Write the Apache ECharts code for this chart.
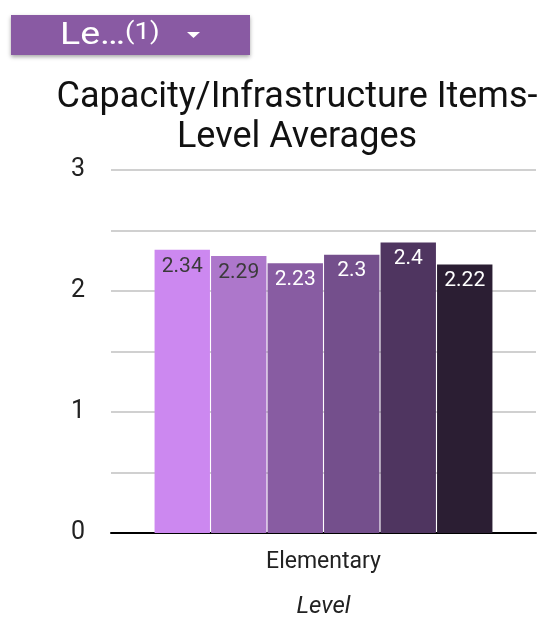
<!DOCTYPE html>
<html>
<head>
<meta charset="utf-8">
<script src="https://cdn.jsdelivr.net/npm/echarts@6/dist/echarts.min.js"></script>
<style>
html,body{margin:0;padding:0;background:#fff;}
#chart{width:549px;height:625px;}
</style>
</head>
<body>
<div id="chart"></div>
<script>
const titleText = 'Capacity/Infrastructure Items-\nLevel Averages';
const categories = ['Elementary'];
const seriesNames = ['S1', 'S2', 'S3', 'S4', 'S5', 'S6'];
const seriesValues = [2.34, 2.29, 2.23, 2.3, 2.4, 2.22];
const barColors = ['#CC88F0', '#AD77CB', '#885CA2', '#744F8C', '#4F3560', '#2B1E33'];
const labelColors = ['#3a3a3a', '#3a3a3a', '#ffffff', '#ffffff', '#ffffff', '#ffffff'];
const yTicks = [0, 1, 2, 3];

const chart = echarts.init(document.getElementById('chart'));
const series = seriesNames.map((n, i) => ({
  name: n,
  type: 'bar',
  data: [seriesValues[i]],
  barGap: '2%',
  barCategoryGap: '20.5%',
  itemStyle: { color: barColors[i] },
  label: {
    show: true,
    position: 'insideTop',
    distance: 6,
    color: labelColors[i],
    fontFamily: 'Roboto',
    fontSize: 21,
    formatter: p => String(p.value)
  }
}));

chart.setOption({
  animation: false,
  backgroundColor: '#ffffff',
  title: {
    text: titleText,
    left: 292,
    textAlign: 'center',
    top: 73,
    textStyle: { fontFamily: 'Roboto', fontSize: 36, fontWeight: 'normal', color: '#111', lineHeight: 40 }
  },
  grid: { left: 111, right: 13, top: 170, bottom: 92 },
  xAxis: {
    type: 'category',
    data: categories,
    name: 'Level',
    nameLocation: 'middle',
    nameGap: 62,
    nameTextStyle: { fontFamily: 'Roboto', fontSize: 24, fontStyle: 'italic', color: '#222' },
    axisLine: { lineStyle: { color: '#000', width: 2 } },
    axisTick: { show: false },
    axisLabel: { fontFamily: 'Roboto', fontSize: 23, color: '#222', margin: 18 }
  },
  yAxis: {
    type: 'value',
    min: yTicks[0],
    max: yTicks[yTicks.length - 1],
    interval: 0.5,
    axisLine: { show: false },
    axisTick: { show: false },
    splitLine: { lineStyle: { color: '#d0d0d0', width: 2 } },
    axisLabel: {
      fontFamily: 'Roboto', fontSize: 25, color: '#222', margin: 26,
      formatter: v => (yTicks.indexOf(v) >= 0 ? String(v) : '')
    }
  },
  series: series,
  graphic: [
    {
      type: 'rect',
      shape: { x: 11, y: 15, width: 239, height: 40 },
      style: { fill: '#895AA3', shadowBlur: 4, shadowOffsetY: 2, shadowColor: 'rgba(0,0,0,0.35)' }
    },
    {
      type: 'text',
      x: 60, y: 36,
      scaleX: 1.17,
      style: { text: 'Le…', verticalAlign: 'middle', fontFamily: 'Roboto', fontSize: 32, fill: '#ffffff' }
    },
    {
      type: 'text',
      x: 125, y: 33,
      scaleX: 1.15,
      style: { text: '(1)', verticalAlign: 'middle', fontFamily: 'Roboto', fontSize: 24, fill: '#ffffff' }
    },
    {
      type: 'polygon',
      shape: { points: [[187, 32], [200, 32], [193.5, 38]] },
      style: { fill: '#ffffff' }
    }
  ]
});
</script>
</body>
</html>
